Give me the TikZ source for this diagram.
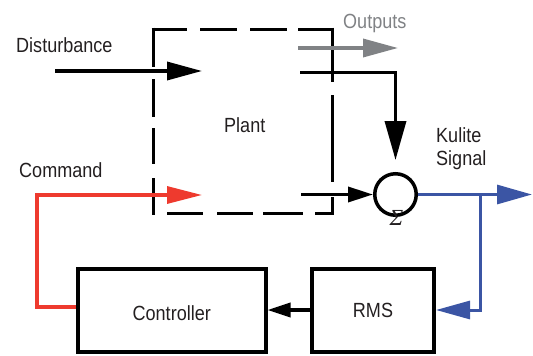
\documentclass[tikz,border=0pt]{standalone}
\usepackage{fontspec}
\setmainfont[FakeStretch=0.88]{Liberation Sans}
\newfontfamily\sigfont{Liberation Serif}
\usetikzlibrary{arrows.meta}
\definecolor{cred}{HTML}{EE3A2E}
\definecolor{cblue}{HTML}{3B55A4}
\definecolor{cgray}{HTML}{808285}
\definecolor{ctext}{HTML}{231F20}
\begin{document}
\begin{tikzpicture}[x=1pt,y=-1pt,
  font=\fontsize{20.5}{23}\selectfont, text=ctext,
  lbl/.style={anchor=base west, inner sep=0pt},
  blk/.style={draw, line width=4pt, rectangle, inner sep=0pt, minimum height=83pt},
  wire/.style={line width=3.5pt},
  plantdash/.style={line width=3pt},
  bigtip/.style={-{Triangle[length=35pt,width=18pt]}}]
\useasboundingbox (0,0) rectangle (533,356);

% plant (dashed box)
\node[inner sep=0pt, outer sep=0pt, minimum width=179pt, minimum height=184pt] (plant) at (242.5,121) {};
\draw[plantdash, dash pattern=on 35.5pt off 13pt on 37pt off 13pt on 37pt off 11pt on 40pt off 10pt]
  ([xshift=-1.5pt]plant.north west) -- ([xshift=1.5pt]plant.north east);
\draw[plantdash, dash pattern=on 54.5pt off 13pt on 87pt off 15pt on 30pt off 10pt]
  ([yshift=1.5pt]plant.north east) -- ([yshift=-1.5pt]plant.south east);
\draw[plantdash, dash pattern=on 0pt off 15.5pt on 36pt off 14pt on 36pt off 10pt on 40pt off 12pt on 30pt off 10pt]
  ([xshift=-1.5pt]plant.south west) -- ([xshift=1.5pt]plant.south east);
\draw[plantdash, dash pattern=on 39.5pt off 12pt on 38pt off 11pt on 36pt off 14pt on 40pt off 10pt]
  ([yshift=1.5pt]plant.north west) -- ([yshift=-1.5pt]plant.south west);
\node[lbl] (plantl) at (224,132) {Plant};

% blocks
\node[blk, minimum width=187.5pt, text height=21pt, text depth=0pt] (controller) at (171.75,310) {Controller};
\node[blk, minimum width=122pt] (rms) at (373,310) {RMS};
\node[circle, draw, line width=3.5pt, minimum size=41.5pt, inner sep=0pt] (sum) at (395.5,194.5) {};
\node[inner sep=0pt] (sigma) at (396.5,218) {\sigfont\itshape\fontsize{23}{23}\selectfont Σ};

% labels
\node[lbl] (dist) at (16,52) {Disturbance};
\node[lbl, text=cgray] (outl) at (343,28) {Outputs};
\node[lbl] (cmd) at (19,177) {Command};
\node[lbl] (kul) at (436,142) {Kulite};
\node[lbl] (sig) at (436,165) {Signal};

% coordinates
\coordinate (dstart) at (55,71);
\coordinate (dend) at (202,71);
\coordinate (redcorner) at (37,195);
\coordinate (cmdend) at (202,195);
\coordinate (out1) at (298,48);
\coordinate (out2) at (398,48);
\coordinate (pout) at (300,72.5);
\coordinate (pin) at (301,194.5);
\coordinate (kout) at (532,194.5);
\coordinate (br) at (480,194.5);

% connectors
\draw[wire, bigtip] (dstart) -- (dend);
\draw[line width=3.2pt, cred, -{Triangle[length=35pt,width=17pt]}]
  ([yshift=3pt]controller.west) -| (redcorner) -- (cmdend);
\draw[wire, cgray, bigtip] (out1) -- (out2);
\draw[wire, shorten >=12pt, -{Triangle[length=39pt,width=21pt]}] (pout) -| (sum.north);
\draw[wire, -{Triangle[length=25pt,width=15pt]}] (pin) -- (sum.west);
\draw[line width=3pt, cblue, -{Triangle[length=35pt,width=19pt]}] (sum.east) -- (kout);
\draw[line width=3pt, cblue, -{Triangle[length=34pt,width=18pt]}] (br) |- (rms.east);
\draw[wire, -{Triangle[length=23pt,width=14pt]}] (rms.west) -- (controller.east);
\end{tikzpicture}
\end{document}
